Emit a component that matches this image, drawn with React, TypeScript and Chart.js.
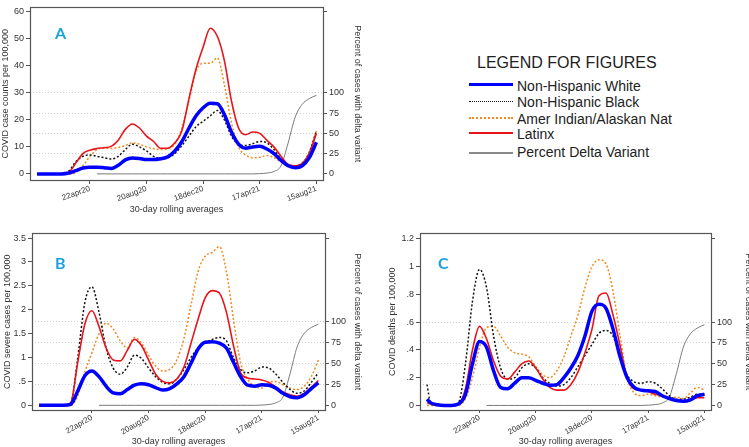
import React, { useEffect, useRef } from "react";
import { Chart, registerables } from "chart.js";

Chart.register(...registerables);

// ---------- data ----------
// day offsets from 1 Jan 2020
const days = [0, 7, 22, 37, 52, 67, 82, 97, 112, 127, 142, 157, 172, 187, 202, 217, 232, 247, 262, 277, 292, 307, 322, 337, 352, 367, 382, 397, 412, 427, 442, 457, 472, 487, 502, 517, 532, 547, 562, 577, 592];

const xTickDays = [112, 232, 352, 472, 592];
const xTickLabels = ["22apr20", "20aug20", "18dec20", "17apr21", "15aug21"];

const deltaTicks = [0, 25, 50, 75, 100, 200];
const deltaTickLabels = ["0", "25", "50", "75", "100", ""];

const deltaPct = [null, null, null, null, null, null, null, null, null, 0, 0, 0, 0, 0, 0, 0, 0, 0, 0, 0, 0, 0, 0, 0, 0, 0, 0, 0, 0, 0, 0, 0, 0.3, 1, 3, 10, 38, 70, 86, 93, 97];

// Panel A: case counts per 100,000
const caseTicks = [0, 10, 20, 30, 40, 50, 60];
const caseTickLabels = ["0", "10", "20", "30", "40", "50", "60"];
const caseWhite = [0, 0, 0, 0, 0, 0.3, 1.2, 2.2, 2.5, 2.5, 2.3, 2.0, 3.2, 5.2, 5.9, 5.7, 5.3, 5.3, 5.6, 6.3, 8.5, 12, 17, 21.5, 24.5, 26.2, 26, 22, 15.5, 11, 9.5, 10, 10.2, 9.2, 7.5, 5, 3, 2.3, 3, 6, 11.7];
const caseBlack = [0, 0, 0, 0, 0, 1, 4.5, 6.5, 7, 6.5, 6, 5.5, 6.5, 9, 11, 10, 8.5, 6.5, 5.7, 6, 7.5, 10.5, 14, 17.5, 19.5, 21.5, 23.5, 20, 14, 11, 10.5, 11.2, 12, 11.5, 9, 5.5, 3.5, 3, 4, 8, 16];
const caseAian = [0, 0, 0, 0, 0, 0, 0.5, 3, 6.5, 9, 9.6, 9.4, 9.8, 10.5, 11.5, 11, 10, 9.3, 9, 9.3, 11, 17, 27, 38, 41, 41, 43, 33, 19, 10, 7, 6, 6.2, 6.8, 6, 4.5, 3.2, 3, 4, 8, 16];
const caseLatinx = [0, 0, 0, 0, 0, 0.5, 4, 7.5, 8.8, 9.4, 9.7, 10.2, 12.5, 16.5, 18.5, 17, 14, 12, 9.5, 9.5, 11.5, 16, 28, 39, 47, 54, 51, 42, 27, 17, 14.5, 15.5, 15, 12.5, 10, 6.5, 3.5, 3, 3.8, 7.5, 15];

// Panel B: severe cases per 100,000
const sevTicks = [0, 0.5, 1, 1.5, 2, 2.5, 3, 3.5];
const sevTickLabels = ["0", ".5", "1", "1.5", "2", "2.5", "3", "3.5"];
const sevWhite = [0, 0, 0, 0, 0, 0.02, 0.3, 0.62, 0.72, 0.6, 0.4, 0.26, 0.24, 0.33, 0.42, 0.45, 0.43, 0.37, 0.32, 0.35, 0.45, 0.6, 0.88, 1.18, 1.32, 1.33, 1.3, 1.2, 0.9, 0.6, 0.42, 0.4, 0.43, 0.42, 0.36, 0.25, 0.18, 0.16, 0.22, 0.35, 0.47];
const sevBlack = [0, 0, 0, 0, 0, 0.05, 1.0, 2.15, 2.48, 1.95, 1.2, 0.78, 0.65, 0.8, 1.05, 0.98, 0.78, 0.6, 0.48, 0.45, 0.55, 0.75, 1.0, 1.2, 1.3, 1.38, 1.42, 1.35, 1.0, 0.75, 0.68, 0.72, 0.8, 0.78, 0.65, 0.48, 0.33, 0.25, 0.3, 0.48, 0.68];
const sevAian = [0, 0, 0, 0, 0, 0, 0.2, 0.7, 1.1, 1.5, 1.72, 1.6, 1.35, 1.2, 1.42, 1.3, 1.05, 0.82, 0.72, 0.75, 0.95, 1.4, 2.1, 2.8, 3.12, 3.2, 3.32, 2.8, 1.8, 0.9, 0.55, 0.4, 0.36, 0.48, 0.5, 0.43, 0.36, 0.33, 0.4, 0.6, 0.95];
const sevLatinx = [0, 0, 0, 0, 0, 0.05, 0.9, 1.7, 1.98, 1.65, 1.2, 0.95, 0.93, 1.15, 1.38, 1.25, 0.95, 0.65, 0.5, 0.47, 0.55, 0.8, 1.3, 1.8, 2.25, 2.4, 2.35, 1.95, 1.25, 0.68, 0.57, 0.55, 0.53, 0.48, 0.38, 0.28, 0.22, 0.19, 0.25, 0.38, 0.52];

// Panel C: deaths per 100,000
const dthTicks = [0, 0.2, 0.4, 0.6, 0.8, 1, 1.2];
const dthTickLabels = ["0", ".2", ".4", ".6", ".8", "1", "1.2"];
const dthWhite = [0.045, 0.02, 0.005, 0, 0, 0.01, 0.08, 0.3, 0.46, 0.42, 0.25, 0.13, 0.12, 0.16, 0.2, 0.2, 0.18, 0.16, 0.145, 0.15, 0.2, 0.27, 0.36, 0.5, 0.68, 0.73, 0.7, 0.55, 0.35, 0.2, 0.13, 0.11, 0.105, 0.1, 0.07, 0.05, 0.035, 0.03, 0.04, 0.07, 0.08];
const dthBlack = [0.15, 0.03, 0.01, 0, 0, 0.02, 0.3, 0.75, 0.98, 0.85, 0.5, 0.27, 0.19, 0.2, 0.27, 0.3, 0.27, 0.2, 0.16, 0.14, 0.15, 0.2, 0.28, 0.36, 0.44, 0.52, 0.54, 0.5, 0.35, 0.22, 0.17, 0.16, 0.17, 0.16, 0.12, 0.07, 0.045, 0.045, 0.06, 0.08, 0.08];
const dthAian = [0, 0, 0, 0, 0, 0, 0.05, 0.2, 0.42, 0.56, 0.57, 0.5, 0.42, 0.38, 0.37, 0.35, 0.28, 0.22, 0.2, 0.25, 0.35, 0.5, 0.65, 0.85, 1.0, 1.05, 1.02, 0.82, 0.5, 0.2, 0.09, 0.07, 0.08, 0.07, 0.06, 0.05, 0.06, 0.05, 0.09, 0.13, 0.11];
const dthLatinx = [0.02, 0.01, 0, 0, 0, 0.01, 0.12, 0.4, 0.57, 0.48, 0.32, 0.21, 0.19, 0.24, 0.3, 0.32, 0.27, 0.19, 0.13, 0.11, 0.11, 0.15, 0.24, 0.38, 0.55, 0.79, 0.81, 0.65, 0.43, 0.2, 0.12, 0.11, 0.1, 0.08, 0.07, 0.05, 0.035, 0.03, 0.04, 0.055, 0.055];

const seriesNames = ["Non-Hispanic White", "Non-Hispanic Black", "Amer Indian/Alaskan Nat", "Latinx", "Percent Delta Variant"];

// ---------- styling ----------
const FONT = "'Liberation Sans', Arial, Helvetica, sans-serif";
const TXT = "#333";
const AXIS = "#555";

type Spec = {
  left: number; top: number; width: number; height: number;
  padTop: number; leftW: number; rightW: number; xH: number;
  yMin: number; yMax: number; yTop: number;
  ticks: number[]; tickLabels: string[];
  yTitle: string; yTitlePad: number; rTitlePad: number; xTitlePad: number;
  xTickLen: number; xTickPad: number; xRot: number;
  white: number[]; black: number[]; aian: number[]; latinx: number[];
};

const boxPlugin = {
  id: "frameBox",
  afterDraw(chart: any) {
    const { ctx, chartArea: a } = chart;
    ctx.save();
    ctx.strokeStyle = AXIS;
    ctx.lineWidth = 1.2;
    ctx.strokeRect(Math.round(a.left) + 0.5, Math.round(a.top) + 0.5, Math.round(a.right - a.left), Math.round(a.bottom - a.top));
    ctx.restore();
  },
};

function Panel({ s }: { s: Spec }) {
  const ref = useRef<HTMLCanvasElement>(null);
  useEffect(() => {
    const ratio = s.yTop / 200;
    const pts = (arr: (number | null)[]) => days.map((d, i) => ({ x: d, y: arr[i] }));
    const tickFont = { family: FONT, size: 9 };
    const xTickFont = { family: FONT, size: 8 };
    const titleFont = { family: FONT, size: 9 };
    const chart = new Chart(ref.current as HTMLCanvasElement, {
      type: "line",
      data: {
        datasets: [
          { label: seriesNames[0], data: pts(s.white), borderColor: "#0000ff", borderWidth: 3.5, yAxisID: "y" },
          { label: seriesNames[3], data: pts(s.latinx), borderColor: "#e8141c", borderWidth: 1.6, yAxisID: "y" },
          { label: seriesNames[1], data: pts(s.black), borderColor: "#111111", borderWidth: 1.5, borderDash: [2, 2], yAxisID: "y" },
          { label: seriesNames[2], data: pts(s.aian), borderColor: "#f28a1e", borderWidth: 1.5, borderDash: [2, 2], yAxisID: "y" },
          { label: seriesNames[4], data: pts(deltaPct), borderColor: "#7a7a7a", borderWidth: 1, yAxisID: "y1" },
        ] as any,
      },
      options: {
        animation: false,
        responsive: true,
        maintainAspectRatio: false,
        layout: { padding: { top: s.padTop, left: 0, right: 0, bottom: 0 } },
        elements: { point: { radius: 0 }, line: { cubicInterpolationMode: "monotone", fill: false } },
        plugins: { legend: { display: false }, tooltip: { enabled: false } },
        scales: {
          x: {
            type: "linear",
            min: -15,
            max: 606,
            afterFit: (sc: any) => { sc.height = s.xH; },
            afterBuildTicks: (sc: any) => { sc.ticks = xTickDays.map((v) => ({ value: v })); },
            ticks: {
              autoSkip: false, minRotation: s.xRot, maxRotation: s.xRot, padding: s.xTickPad,
              font: xTickFont, color: TXT,
              callback: (_v: any, i: number) => xTickLabels[i],
            },
            grid: { display: true, drawOnChartArea: false, tickLength: s.xTickLen, tickColor: AXIS, color: AXIS },
            border: { display: false },
            title: { display: true, text: "30-day rolling averages", font: titleFont, color: TXT, padding: { top: 0, bottom: s.xTitlePad } },
          },
          y: {
            position: "left",
            min: s.yMin,
            max: s.yMax,
            afterFit: (sc: any) => { sc.width = s.leftW; },
            afterBuildTicks: (sc: any) => { sc.ticks = s.ticks.map((v) => ({ value: v })); },
            ticks: { padding: 2, font: tickFont, color: TXT, callback: (_v: any, i: number) => s.tickLabels[i] },
            grid: { display: true, drawOnChartArea: false, tickLength: 4, tickColor: AXIS, color: AXIS },
            border: { display: false },
            title: { display: true, text: s.yTitle, font: titleFont, color: TXT, padding: { top: s.yTitlePad, bottom: 0 } },
          },
          y1: {
            position: "right",
            min: s.yMin / ratio,
            max: s.yMax / ratio,
            afterFit: (sc: any) => { sc.width = s.rightW; },
            afterBuildTicks: (sc: any) => { sc.ticks = deltaTicks.map((v) => ({ value: v })); },
            ticks: { padding: 2, font: tickFont, color: TXT, callback: (_v: any, i: number) => deltaTickLabels[i] },
            grid: {
              display: true,
              drawOnChartArea: true,
              tickLength: 4,
              tickColor: AXIS,
              lineWidth: 1,
              color: (ctx: any) => (ctx.tick && (ctx.tick.value === 0 || ctx.tick.value === 200) ? "rgba(0,0,0,0)" : "#cfcfcf"),
            },
            border: { display: false, dash: [1, 2] },
            title: { display: true, text: "Percent of cases with delta variant", font: titleFont, color: TXT, padding: { top: s.rTitlePad, bottom: 0 } },
          },
        },
      } as any,
      plugins: [boxPlugin],
    });
    return () => chart.destroy();
  }, []);
  return (
    <div style={{ position: "absolute", left: s.left, top: s.top, width: s.width, height: s.height }}>
      <canvas ref={ref} />
    </div>
  );
}

const specA: Spec = {
  left: 0, top: 0, width: 363, height: 222,
  padTop: 2, leftW: 30, rightW: 40, xH: 42,
  yMin: -2.27, yMax: 61.7, yTop: 60,
  ticks: caseTicks, tickLabels: caseTickLabels,
  yTitle: "COVID case counts per 100,000", yTitlePad: 0, rTitlePad: 0.6, xTitlePad: 6.6,
  xTickLen: 4, xTickPad: 0, xRot: 20,
  white: caseWhite, black: caseBlack, aian: caseAian, latinx: caseLatinx,
};

const specB: Spec = {
  left: 0, top: 226, width: 363, height: 221,
  padTop: 6, leftW: 32, rightW: 38, xH: 37,
  yMin: -0.098, yMax: 3.597, yTop: 3.5,
  ticks: sevTicks, tickLabels: sevTickLabels,
  yTitle: "COVID severe cases per 100,000", yTitlePad: 2, rTitlePad: 0.6, xTitlePad: 0,
  xTickLen: 3, xTickPad: 0, xRot: 30,
  white: sevWhite, black: sevBlack, aian: sevAian, latinx: sevLatinx,
};

const specC: Spec = {
  left: 385, top: 226, width: 370, height: 221,
  padTop: 5, leftW: 35, rightW: 44, xH: 37,
  yMin: -0.033, yMax: 1.24, yTop: 1.2,
  ticks: dthTicks, tickLabels: dthTickLabels,
  yTitle: "COVID deaths per 100,000", yTitlePad: 2.6, rTitlePad: 1.6, xTitlePad: 0,
  xTickLen: 3, xTickPad: 0, xRot: 30,
  white: dthWhite, black: dthBlack, aian: dthAian, latinx: dthLatinx,
};

const legendRows = [
  { lineY: 84.7, textTop: 78, style: { height: 3.5, background: "#0000ff" } },
  { lineY: 101.7, textTop: 94, style: { height: 0, borderTop: "1.5px dotted #111" } },
  { lineY: 117.7, textTop: 110.5, style: { height: 0, borderTop: "2px dotted #f28a1e" } },
  { lineY: 132.7, textTop: 125.5, style: { height: 2, background: "#e8141c" } },
  { lineY: 152.7, textTop: 144, style: { height: 2, background: "#8a8a8a" } },
];
const legendOrder = [0, 1, 2, 3, 4];

const letterStyle: React.CSSProperties = {
  position: "absolute", fontFamily: "Lato, 'Open Sans', sans-serif", fontWeight: 700,
  fontSize: 16, lineHeight: "16px", color: "#1ba1e2",
};

export default function App() {
  return (
    <div style={{ position: "fixed", left: 0, top: 0, width: 749, height: 447, overflow: "hidden", background: "#fff", fontFamily: FONT }}>
      <Panel s={specA} />
      <Panel s={specB} />
      <Panel s={specC} />
      <div style={{ ...letterStyle, left: 55, top: 25 }}>A</div>
      <div style={{ ...letterStyle, left: 55, top: 255 }}>B</div>
      <div style={{ ...letterStyle, left: 438, top: 255 }}>C</div>
      <div style={{ position: "absolute", left: 477, top: 54, fontSize: 16, lineHeight: "18px", color: "#222", whiteSpace: "nowrap" }}>
        LEGEND FOR FIGURES
      </div>
      {legendRows.map((r, k) => (
        <React.Fragment key={k}>
          <div style={{ position: "absolute", left: 469, width: 44, top: r.lineY - ((r.style as any).height || 1.5) / 2, ...r.style }} />
          <div style={{ position: "absolute", left: 517, top: r.textTop, fontSize: 14, lineHeight: "16px", color: "#222", whiteSpace: "nowrap" }}>
            {seriesNames[legendOrder[k]]}
          </div>
        </React.Fragment>
      ))}
    </div>
  );
}
